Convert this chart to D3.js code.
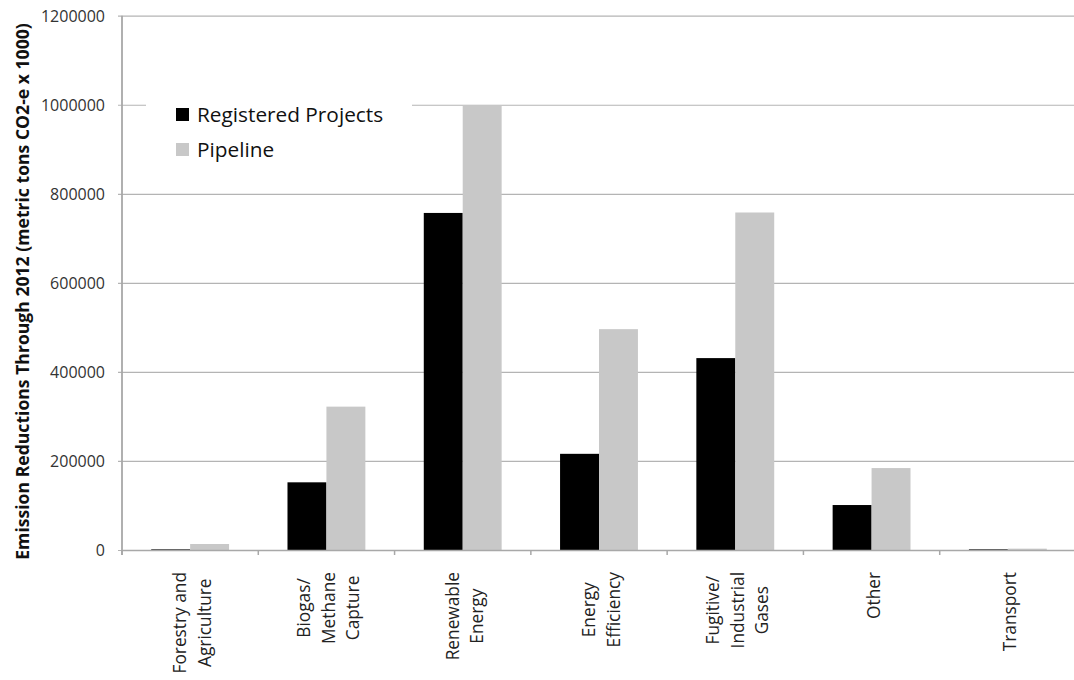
<!DOCTYPE html>
<html>
<head>
<meta charset="utf-8">
<script src="https://cdn.jsdelivr.net/npm/d3@7"></script>
<style>
  html, body { margin: 0; padding: 0; background: #fff; }
  svg { display: block; font-family: "Open Sans", sans-serif; }
</style>
</head>
<body>
<svg id="chart" width="1074" height="680"></svg>
<script>
// Emission reductions through 2012 by project type (metric tons CO2-e x 1000)
const categories = [
  "Forestry and\nAgriculture",
  "Biogas/\nMethane\nCapture",
  "Renewable\nEnergy",
  "Energy\nEfficiency",
  "Fugitive/\nIndustrial\nGases",
  "Other",
  "Transport"
];
const registered = [1500, 152000, 757000, 216000, 431000, 101000, 1500];
const pipeline   = [13500, 322000, 998000, 496000, 758000, 184000, 3000];
const seriesNames = ["Registered Projects", "Pipeline"];
const seriesColors = ["#000000", "#c8c8c8"];
const yTicks = [0, 200000, 400000, 600000, 800000, 1000000, 1200000];
const yTitle = "Emission Reductions Through 2012 (metric tons CO2-e x 1000)";

const svg = d3.select("#chart");
const margin = { left: 122, right: 1076, top: 15.7, bottom: 550 };

const x = d3.scaleBand()
  .domain(categories)
  .range([margin.left, margin.right])
  .paddingInner(0)
  .paddingOuter(0);

// Two bars per category with a 150% gap between groups
const inner = d3.scaleBand()
  .domain([0, 1])
  .range([0, x.bandwidth()])
  .paddingInner(0)
  .paddingOuter(0.75);

const y = d3.scaleLinear()
  .domain([0, 1200000])
  .range([margin.bottom, margin.top]);

const gridColor = "#b4b4b4";
const axisColor = "#a8a8a8";

// Horizontal gridlines with short tick marks left of the axis
const yAxis = d3.axisLeft(y)
  .tickValues(yTicks)
  .tickSize(-(margin.right - margin.left))
  .tickSizeOuter(0)
  .tickPadding(17)
  .tickFormat(d3.format("d"));

const gY = svg.append("g")
  .attr("transform", `translate(${margin.left},0)`)
  .call(yAxis);
gY.select(".domain").remove();
gY.selectAll(".tick line")
  .attr("x1", -4)
  .attr("stroke", gridColor)
  .attr("stroke-width", 1.2);
gY.selectAll(".tick text")
  .attr("fill", "#333")
  .attr("font-size", 16)
  .attr("font-family", "'Open Sans', sans-serif")
  .attr("dy", "0.36em");

// Bars
const series = [registered, pipeline];
series.forEach((vals, si) => {
  svg.append("g")
    .selectAll("rect")
    .data(categories.map((c, i) => ({ c, v: vals[i] })))
    .join("rect")
    .attr("x", d => x(d.c) + inner(si))
    .attr("width", inner.bandwidth())
    .attr("y", d => y(d.v))
    .attr("height", d => y(0) - y(d.v))
    .attr("fill", seriesColors[si]);
});

// Category axis
const xAxis = d3.axisBottom(x).tickSize(0).tickFormat("");
const gX = svg.append("g")
  .attr("transform", `translate(0,${margin.bottom})`)
  .call(xAxis);
gX.select(".domain")
  .attr("stroke", axisColor)
  .attr("stroke-width", 1.5);
gX.selectAll(".tick").remove();

// Tick marks at category boundaries
const boundaries = categories.map(c => x(c)).concat([x(categories[categories.length - 1]) + x.bandwidth()]);
svg.append("g")
  .selectAll("line")
  .data(boundaries)
  .join("line")
  .attr("x1", d => d).attr("x2", d => d)
  .attr("y1", margin.bottom).attr("y2", margin.bottom + 5)
  .attr("stroke", axisColor)
  .attr("stroke-width", 1.5);

// Vertical value axis line
svg.append("line")
  .attr("x1", margin.left).attr("x2", margin.left)
  .attr("y1", margin.top).attr("y2", margin.bottom + 5)
  .attr("stroke", axisColor)
  .attr("stroke-width", 1.8);

// Rotated, multi-line category labels
const labelTop = 572;
const lineGap = 24.5;
categories.forEach(c => {
  const lines = c.split("\n");
  const cx = x(c) + x.bandwidth() / 2 + 2;
  const g = svg.append("g")
    .attr("transform", `translate(${cx},${labelTop}) rotate(-90)`);
  const texts = g.selectAll("text")
    .data(lines)
    .join("text")
    .attr("font-size", 17.3)
    .attr("fill", "#222")
    .attr("dominant-baseline", "central")
    .attr("text-anchor", "middle")
    .attr("y", (d, i) => (i - (lines.length - 1) / 2) * lineGap)
    .text(d => d);
  const widest = d3.max(texts.nodes(), n => n.getComputedTextLength());
  texts.attr("x", -widest / 2);
});

// Value axis title
svg.append("text")
  .attr("transform", `translate(28.5,${(23 + 560) / 2}) rotate(-90)`)
  .attr("text-anchor", "middle")
  .attr("font-size", 17.6)
  .attr("font-weight", "bold")
  .attr("fill", "#111")
  .text(yTitle);

// Legend
const legend = svg.append("g");
legend.append("rect")
  .attr("x", 146).attr("y", 88)
  .attr("width", 266).attr("height", 86)
  .attr("fill", "#fff");
seriesNames.forEach((name, i) => {
  const row = legend.append("g").attr("transform", `translate(176,${108 + i * 35})`);
  row.append("rect")
    .attr("width", 13).attr("height", 13)
    .attr("fill", seriesColors[i]);
  row.append("text")
    .attr("x", 21).attr("y", 13.5)
    .attr("font-size", 20.8)
    .attr("fill", "#111")
    .text(name);
});
</script>
</body>
</html>
